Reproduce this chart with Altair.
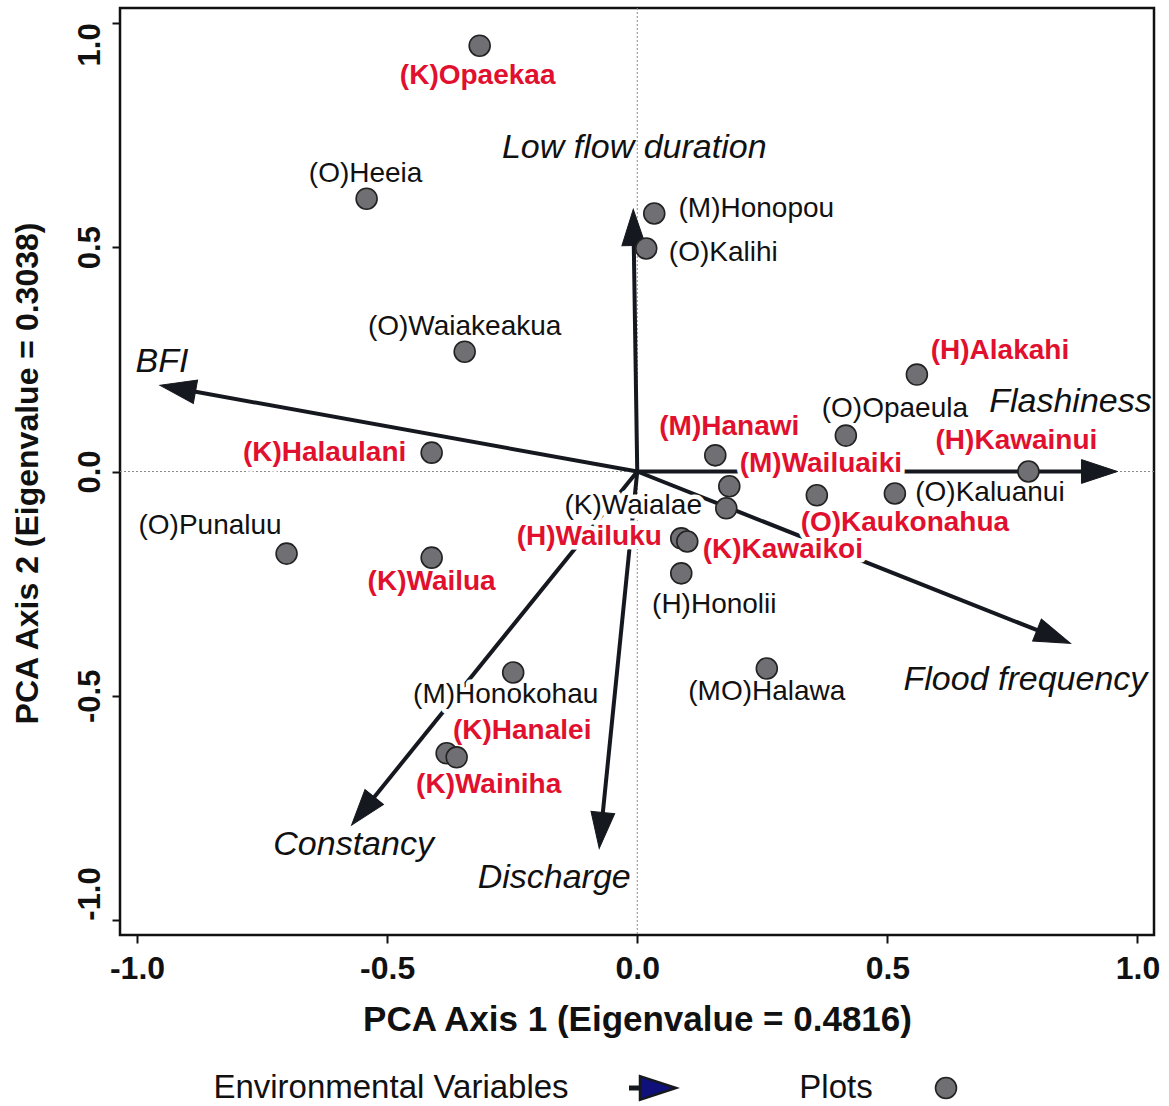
import math
import altair as alt
import pandas as pd

# ---- Site scores on PCA axes 1 and 2 -------------------------------------
sites = [
    "(K)Opaekaa", "(O)Heeia", "(M)Honopou", "(O)Kalihi", "(O)Waiakeakua",
    "(H)Alakahi", "(O)Opaeula", "(H)Kawainui", "(M)Hanawi", "(M)Wailuaiki",
    "(K)Waialae", "(O)Kaukonahua", "(O)Kaluanui", "(H)Wailuku", "(K)Kawaikoi",
    "(H)Honolii", "(K)Halaulani", "(O)Punaluu", "(K)Wailua", "(M)Honokohau",
    "(MO)Halawa", "(K)Hanalei", "(K)Wainiha",
]
site_x = [
    -0.315, -0.541, 0.034, 0.018, -0.345,
    0.559, 0.417, 0.782, 0.156, 0.184,
    0.178, 0.359, 0.515, 0.088, 0.100,
    0.088, -0.411, -0.701, -0.411, -0.248,
    0.259, -0.381, -0.361,
]
site_y = [
    0.949, 0.608, 0.575, 0.497, 0.267,
    0.216, 0.080, 0.000, 0.036, -0.033,
    -0.082, -0.053, -0.049, -0.149, -0.156,
    -0.227, 0.042, -0.183, -0.192, -0.448,
    -0.439, -0.628, -0.637,
]
# highlighted sites (red, bold names)
site_highlight = [
    True, False, False, False, False,
    True, False, True, True, True,
    False, True, False, True, True,
    False, True, False, True, False,
    False, True, True,
]
# where each site name sits (centre of the text, axis units)
site_label_x = [
    -0.319, -0.543, 0.238, 0.172, -0.345,
    0.725, 0.515, 0.758, 0.184, 0.367,
    -0.008, 0.535, 0.705, -0.096, 0.291,
    0.154, -0.625, -0.854, -0.411, -0.263,
    0.259, -0.230, -0.297,
]
site_label_y = [
    0.882, 0.664, 0.586, 0.488, 0.323,
    0.269, 0.140, 0.067, 0.100, 0.016,
    -0.078, -0.114, -0.049, -0.147, -0.174,
    -0.298, 0.042, -0.122, -0.247, -0.499,
    -0.492, -0.579, -0.699,
]

# ---- Environmental variable loadings (arrows) ----------------------------
variables = ["Low flow duration", "BFI", "Flashiness", "Flood frequency",
             "Constancy", "Discharge"]
var_x = [-0.008, -0.954, 0.960, 0.866, -0.571, -0.076]
var_y = [0.584, 0.192, 0.000, -0.383, -0.788, -0.840]
var_label_x = [-0.006, -0.950, 0.866, 0.776, -0.567, -0.166]
var_label_y = [0.722, 0.243, 0.154, -0.465, -0.833, -0.906]

tick_values = [-1.0, -0.5, 0.0, 0.5, 1.0]

# ---- Layout --------------------------------------------------------------
W, H = 1034, 927
X_DOM = [-1.034, 1.033]
Y_DOM = [-1.033, 1.033]
px_per_x = W / (X_DOM[1] - X_DOM[0])
px_per_y = H / (Y_DOM[1] - Y_DOM[0])

FONT = "Liberation Sans"
INK = "#15191f"
RED = "#e0102e"
HEAD_LEN = 36  # arrow head length in pixels

sites_df = pd.DataFrame({
    "site": sites, "x": site_x, "y": site_y,
    "lx": site_label_x, "ly": site_label_y,
    "hl": site_highlight,
})

arrows = []
for name, vx, vy, lx, ly in zip(variables, var_x, var_y, var_label_x, var_label_y):
    dx, dy = vx * px_per_x, vy * px_per_y
    length = math.hypot(dx, dy)
    f = 1 - 14 / length  # stop the shaft inside the head
    angle = math.degrees(math.atan2(dx, dy)) % 360
    arrows.append({"var": name, "x0": 0.0, "y0": 0.0, "tx": vx, "ty": vy,
                   "ex": vx * f, "ey": vy * f, "angle": angle,
                   "lx": lx, "ly": ly})
arrows_df = pd.DataFrame(arrows)

xs = alt.Scale(domain=X_DOM, nice=False, zero=False)
ys = alt.Scale(domain=Y_DOM, nice=False, zero=False)

label_expr = ("datum.value < 0 ? '-' + format(-datum.value, '.1f') "
              ": format(datum.value, '.1f')")

x_axis = alt.Axis(
    values=tick_values, labelExpr=label_expr, grid=False, domain=False,
    title="PCA Axis 1 (Eigenvalue = 0.4816)",
    tickSize=8, tickWidth=2, tickColor="#111",
    labelFont=FONT, labelFontSize=32, labelFontWeight="bold", labelColor="#111",
    labelPadding=10, labelBaseline="top",
    titleFont=FONT, titleFontSize=35, titleFontWeight="bold", titleColor="#111",
    titleX=517, titleY=95, titleAlign="center", titleBaseline="alphabetic",
)
y_axis = alt.Axis(
    values=tick_values, labelExpr=label_expr, grid=False, domain=False,
    title="PCA Axis 2 (Eigenvalue = 0.3038)",
    tickSize=8, tickWidth=2, tickColor="#111",
    labelFont=FONT, labelFontSize=31, labelFontWeight="bold", labelColor="#111",
    labelAngle=270, labelPadding=13, labelBaseline="alphabetic",
    labelAlign={"condition": [
        {"test": "datum.value > 0.9", "value": "right"},
        {"test": "datum.value < -0.9", "value": "left"},
    ], "value": "center"},
    titleFont=FONT, titleFontSize=32, titleFontWeight="bold", titleColor="#111",
    titleAngle=270, titleX=-83, titleY=465, titleAlign="center",
    titleBaseline="alphabetic",
)


def X(field):
    return alt.X(field, type="quantitative", scale=xs, axis=x_axis)


def Y(field):
    return alt.Y(field, type="quantitative", scale=ys, axis=y_axis)


zero_df = pd.DataFrame({"v": [0.0]})
vline = alt.Chart(zero_df).mark_rule(
    color="#8a8a8a", strokeWidth=1, strokeDash=[2, 2]).encode(x=X("v"))
hline = alt.Chart(zero_df).mark_rule(
    color="#8a8a8a", strokeWidth=1, strokeDash=[2, 2]).encode(y=Y("v"))

shafts = alt.Chart(arrows_df).mark_rule(
    color=INK, strokeWidth=4).encode(
    x=X("x0"), y=Y("y0"), x2="ex", y2="ey")

# arrow head: triangle whose tip sits on the symbol's anchor point
head_path = "M0,0L-0.66,2L0.66,2Z"
heads = alt.Chart(arrows_df).mark_point(
    shape=head_path, size=HEAD_LEN ** 2, filled=True, fill=INK, stroke=INK,
    strokeWidth=1, opacity=1).encode(
    x=X("tx"), y=Y("ty"), angle=alt.Angle("angle:Q", scale=None))


def text_layers(data, fontsize, color, weight="normal", style="normal",
                filt=None, field="site", halo=True):
    base = alt.Chart(data)
    if filt is not None:
        base = base.transform_filter(filt)
    common = dict(font=FONT, fontSize=fontsize, fontWeight=weight,
                  fontStyle=style, align="center", baseline="middle")
    enc = dict(x=X("lx"), y=Y("ly"), text=f"{field}:N")
    layers = []
    if halo:
        # white outline so the names mask the arrows passing under them
        layers.append(base.mark_text(color="white", stroke="white",
                                     strokeWidth=9, strokeJoin="round",
                                     **common).encode(**enc))
    layers.append(base.mark_text(color=color, **common).encode(**enc))
    return layers


plain_labels = text_layers(sites_df, 28, "#111", filt="!datum.hl")
red_labels = text_layers(sites_df, 28, RED, weight="bold", filt="datum.hl")
var_labels = text_layers(arrows_df, 34, "#111", style="italic", field="var",
                         halo=False)

points = alt.Chart(sites_df).mark_point(
    shape="circle", size=440, filled=True, fill="#6f6f74", stroke="#222",
    strokeWidth=1.6, opacity=1).encode(x=X("x"), y=Y("y"))

# ---- Legend below the plot ----------------------------------------------
one = pd.DataFrame({"k": [0]})
LEG_Y = 1080
leg_text1 = alt.Chart(one).mark_text(
    font=FONT, fontSize=33, color="#111", align="center", baseline="middle").encode(
    x=alt.value(271), y=alt.value(LEG_Y), text=alt.value("Environmental Variables"))
leg_text2 = alt.Chart(one).mark_text(
    font=FONT, fontSize=33, color="#111", align="center", baseline="middle").encode(
    x=alt.value(716), y=alt.value(LEG_Y), text=alt.value("Plots"))
leg_shaft = alt.Chart(one).mark_rule(color=INK, strokeWidth=5).encode(
    x=alt.value(509), x2=alt.value(530), y=alt.value(LEG_Y))
leg_head = alt.Chart(one).mark_point(
    shape=head_path, size=HEAD_LEN ** 2, filled=True, fill="#10107a",
    stroke=INK, strokeWidth=2.5, opacity=1, angle=90).encode(
    x=alt.value(556), y=alt.value(LEG_Y))
leg_dot = alt.Chart(one).mark_point(
    shape="circle", size=440, filled=True, fill="#6f6f74", stroke="#222",
    strokeWidth=1.6, opacity=1).encode(x=alt.value(826), y=alt.value(LEG_Y))

chart = alt.layer(
    vline, hline, shafts, heads,
    *plain_labels, *red_labels, *var_labels,
    points,
    leg_text1, leg_text2, leg_shaft, leg_head, leg_dot,
).properties(
    width=W, height=H,
    padding={"left": 120, "top": 8, "right": 15, "bottom": 171},
    autosize=alt.AutoSizeParams(type="none"),
    background="white",
).configure_view(stroke="#111", strokeWidth=2.5)

chart.save("out.html", embed_options={"renderer": "svg", "actions": False})
